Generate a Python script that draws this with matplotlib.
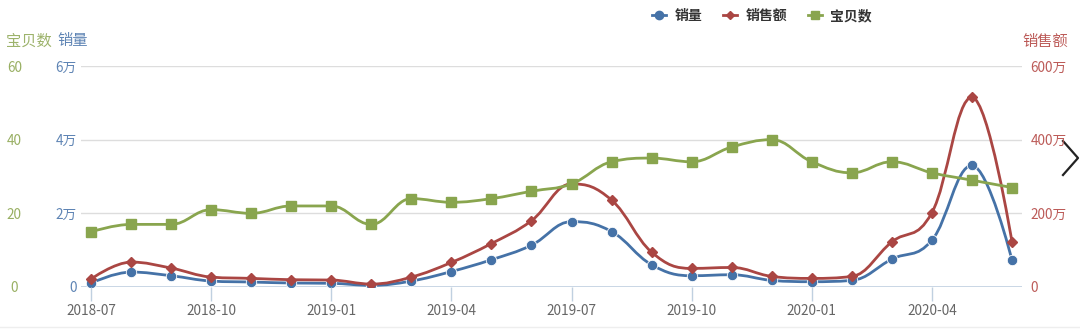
import matplotlib
matplotlib.use('Agg')
import matplotlib.pyplot as plt
from matplotlib.path import Path
from matplotlib.patches import PathPatch
from matplotlib.lines import Line2D

plt.rcParams['font.family'] = ['Noto Sans CJK SC', 'DejaVu Sans']

# monthly data, 2018-07 .. 2020-06
months = ['2018-07', '2018-08', '2018-09', '2018-10', '2018-11', '2018-12',
          '2019-01', '2019-02', '2019-03', '2019-04', '2019-05', '2019-06',
          '2019-07', '2019-08', '2019-09', '2019-10', '2019-11', '2019-12',
          '2020-01', '2020-02', '2020-03', '2020-04', '2020-05', '2020-06']
sales_qty = [1080, 4050, 3060, 1620, 1350, 1080, 1000, 450, 1620, 4200, 7400, 11350,
             17750, 15050, 6040, 3060, 3330, 1800, 1440, 1800, 7570, 12700, 33000, 7300]
sales_amt = [21.6, 67.6, 51.4, 27, 23.4, 19.8, 18.9, 8.1, 27, 66.7, 118, 180,
             280, 236, 94.6, 50.5, 53, 28.8, 23.4, 28.8, 122.5, 201.8, 515, 122.5]  # 万
items = [15, 17, 17, 21, 20, 22, 22, 17, 24, 23, 24, 26,
         28, 34, 35, 34, 38, 40, 34, 31, 34, 31, 29, 27]

qty_ticks = [0, 20000, 40000, 60000]
qty_labels = ['0', '2万', '4万', '6万']
amt_ticks = [0, 200, 400, 600]
amt_labels = ['0', '200万', '400万', '600万']
item_ticks = [0, 20, 40, 60]

BLUE, RED, GREEN = '#4572A7', '#AA4643', '#89A54E'


def spline_path(xs, ys, smoothing=1.5):
    # highcharts-style spline: cubic bezier control points per point
    n = len(xs)
    denom = smoothing + 1
    left = [(xs[i], ys[i]) for i in range(n)]
    right = [(xs[i], ys[i]) for i in range(n)]
    for i in range(1, n - 1):
        px, py = xs[i], ys[i]
        lx, ly = xs[i - 1], ys[i - 1]
        nx, ny = xs[i + 1], ys[i + 1]
        lcx = (smoothing * px + lx) / denom
        lcy = (smoothing * py + ly) / denom
        rcx = (smoothing * px + nx) / denom
        rcy = (smoothing * py + ny) / denom
        if rcx != lcx:
            corr = (rcy - lcy) * (rcx - px) / (rcx - lcx) + py - rcy
            lcy += corr
            rcy += corr
        if lcy > ly and lcy > py:
            lcy = max(ly, py)
            rcy = 2 * py - lcy
        elif lcy < ly and lcy < py:
            lcy = min(ly, py)
            rcy = 2 * py - lcy
        if rcy > ny and rcy > py:
            rcy = max(ny, py)
            lcy = 2 * py - rcy
        elif rcy < ny and rcy < py:
            rcy = min(ny, py)
            lcy = 2 * py - rcy
        left[i] = (lcx, lcy)
        right[i] = (rcx, rcy)
    verts = [(xs[0], ys[0])]
    codes = [Path.MOVETO]
    for i in range(1, n):
        verts += [right[i - 1], left[i], (xs[i], ys[i])]
        codes += [Path.CURVE4] * 3
    return Path(verts, codes)


W, H = 1080, 335
fig = plt.figure(figsize=(W / 100, H / 100), dpi=100)
ax = fig.add_axes([81 / W, 1 - 287 / H, (1022 - 81) / W, (287 - 66) / H])
ax_q = ax.twinx()
ax_a = ax.twinx()

x = list(range(len(months)))

# draw order: 销量, 销售额, 宝贝数 on top
ax.set_zorder(3)
ax_a.set_zorder(2)
ax_q.set_zorder(1)
ax.patch.set_visible(False)
ax_a.patch.set_visible(False)
ax_q.patch.set_facecolor('white')

ax_q.add_patch(PathPatch(spline_path(x, sales_qty), fill=False, ec=BLUE, lw=2))
ax_q.plot(x, sales_qty, 'o', color=BLUE, ms=7.5, mec='white', mew=0.6)
ax_a.add_patch(PathPatch(spline_path(x, sales_amt), fill=False, ec=RED, lw=2))
ax_a.plot(x, sales_amt, 'D', color=RED, ms=5, mec=RED)
ax.add_patch(PathPatch(spline_path(x, items), fill=False, ec=GREEN, lw=2))
ax.plot(x, items, 's', color=GREEN, ms=7.5)

for a in (ax, ax_q, ax_a):
    a.set_xlim(-0.25, len(months) - 0.75)
    for s in a.spines.values():
        s.set_visible(False)
ax.set_ylim(0, 60)
ax_q.set_ylim(0, 60000)
ax_a.set_ylim(0, 600)

# grid
for v in item_ticks[1:]:
    ax_q.axhline(v * 1000, color='#DDDDDD', lw=1, zorder=0)
ax_q.axhline(0, color='#C0D0E0', lw=1.2, zorder=0)

# x ticks
ax.set_xticks(x[::3])
ax.set_xticklabels(months[::3], fontsize=9.8, color='#666666')
ax.tick_params(axis='x', length=10, color='#C0D0E0', width=1, pad=2)
ax_q.tick_params(axis='x', bottom=False, labelbottom=False)
ax_a.tick_params(axis='x', bottom=False, labelbottom=False)

# y axes
ax.set_yticks(item_ticks)
ax.set_yticklabels([str(v) for v in item_ticks], fontsize=9.8, color='#98AF62')
ax.tick_params(axis='y', length=0, pad=48)
for t in ax.get_yticklabels():
    t.set_ha('center')

ax_q.yaxis.set_ticks_position('left')
ax_q.set_yticks(qty_ticks)
ax_q.set_yticklabels(qty_labels, fontsize=9.8, color='#5E84B4')
ax_q.tick_params(axis='y', length=0, pad=3)

ax_a.set_yticks(amt_ticks)
ax_a.set_yticklabels(amt_labels, fontsize=9.8, color='#BC5B58')
ax_a.tick_params(axis='y', length=0, pad=6)

# axis titles
fig.text(6 / W, 1 - 41 / H, '宝贝数', color='#9DB36B', fontsize=11, va='center', ha='left')
fig.text(57 / W, 1 - 41 / H, '销量', color='#5E84B4', fontsize=11, va='center', ha='left')
fig.text(1045 / W, 1 - 41 / H, '销售额', color='#BC5B58', fontsize=11, va='center', ha='center')

# legend
handles = [Line2D([], [], color=BLUE, marker='o', ms=6, lw=2),
           Line2D([], [], color=RED, marker='D', ms=4, lw=2),
           Line2D([], [], color=GREEN, marker='s', ms=6, lw=2)]
leg = fig.legend(handles, ['销量', '销售额', '宝贝数'], loc='center',
                 bbox_to_anchor=(762 / W, 1 - 16 / H), ncol=3, frameon=False,
                 handlelength=1.0, handletextpad=0.6, columnspacing=1.5,
                 prop={'size': 10, 'weight': 'bold'})
for t in leg.get_texts():
    t.set_color('#333333')

# bottom separator and nav arrow
fig.add_artist(Line2D([0, 1], [1 - 327 / H, 1 - 327 / H], color='#EEEEEE', lw=1))
fig.add_artist(Line2D([1063 / W, 1078 / W, 1063 / W],
                      [1 - 141 / H, 1 - 158 / H, 1 - 175 / H], color='#222222', lw=1.6))

fig.savefig('out.png', dpi=100, facecolor='white')
